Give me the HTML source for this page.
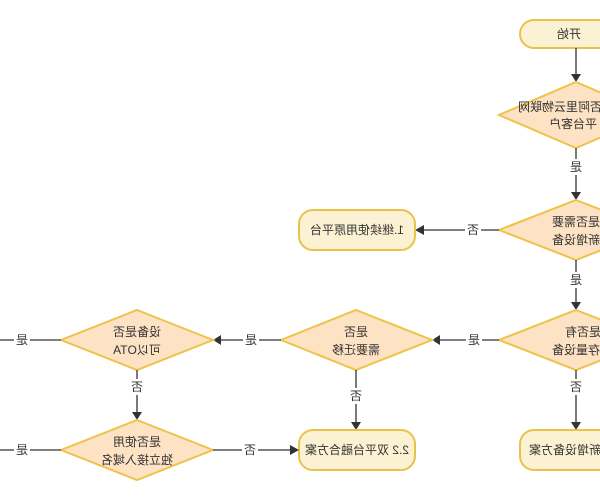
<!DOCTYPE html>
<html><head><meta charset="utf-8"><style>
html,body{margin:0;padding:0;background:#fff;width:600px;height:500px;overflow:hidden}
text{font-family:"Liberation Sans","Noto Sans CJK SC",sans-serif;font-size:12px;fill:#333;text-anchor:middle;dominant-baseline:central}
.d{fill:#fde2c4;stroke:#efc24a;stroke-width:2}
.r{fill:#fbf1d3;stroke:#e9c24e;stroke-width:2}
.l{stroke:#333;stroke-width:1.3;fill:none}
.a{fill:#333}
</style></head><body>
<svg width="600" height="500" viewBox="0 0 600 500" xmlns="http://www.w3.org/2000/svg">
<!-- start -->
<rect class="r" x="520" y="20" width="112" height="28" rx="14"/>
<text transform="translate(569,34) scale(-1,1)">开始</text>
<line class="l" x1="576" y1="48" x2="576" y2="76"/><polygon class="a" points="571,74 581,74 576,82"/>
<!-- d1 -->
<polygon class="d" points="576,82 653,115 576,148 499,115"/>
<text transform="translate(566,107) scale(-1,1)">是否阿里云物联网</text>
<text transform="translate(573,124) scale(-1,1)">平台客户</text>
<line class="l" x1="576" y1="148" x2="576" y2="194"/><polygon class="a" points="571,192 581,192 576,200"/>
<rect x="569" y="159" width="14" height="16" fill="#fff"/><text transform="translate(576,167) scale(-1,1)">是</text>
<!-- d2 -->
<polygon class="d" points="576,200 653,230 576,260 499,230"/>
<text transform="translate(576,222) scale(-1,1)">是否需要</text>
<text transform="translate(576,240) scale(-1,1)">新增设备</text>
<line class="l" x1="499" y1="230" x2="422" y2="230"/><polygon class="a" points="424,225 424,235 415,230"/>
<rect x="465" y="222" width="16" height="16" fill="#fff"/><text transform="translate(473,230) scale(-1,1)">否</text>
<rect class="r" x="299" y="210" width="116" height="40" rx="14"/>
<text transform="translate(357,230) scale(-1,1)">1.继续使用原平台</text>
<line class="l" x1="576" y1="260" x2="576" y2="304"/><polygon class="a" points="571,302 581,302 576,310"/>
<rect x="569" y="272" width="14" height="16" fill="#fff"/><text transform="translate(576,280) scale(-1,1)">是</text>
<!-- d3 -->
<polygon class="d" points="576,310 653,340 576,370 499,340"/>
<text transform="translate(583,332) scale(-1,1)">是否有</text>
<text transform="translate(576,350) scale(-1,1)">存量设备</text>
<line class="l" x1="499" y1="340" x2="438" y2="340"/><polygon class="a" points="440,335 440,345 432,340"/>
<rect x="466" y="332" width="16" height="16" fill="#fff"/><text transform="translate(474,340) scale(-1,1)">是</text>
<line class="l" x1="576" y1="370" x2="576" y2="424"/><polygon class="a" points="571,422 581,422 576,430"/>
<rect x="569" y="379" width="14" height="16" fill="#fff"/><text transform="translate(576,387) scale(-1,1)">否</text>
<rect class="r" x="520" y="430" width="130" height="40" rx="14"/>
<text transform="translate(575,450) scale(-1,1)">2.1 新增设备方案</text>
<!-- d4 -->
<polygon class="d" points="356,310 432,340 356,370 281,340"/>
<text transform="translate(356,332) scale(-1,1)">是否</text>
<text transform="translate(356,350) scale(-1,1)">需要迁移</text>
<line class="l" x1="281" y1="340" x2="219" y2="340"/><polygon class="a" points="221,335 221,345 213,340"/>
<rect x="243" y="332" width="16" height="16" fill="#fff"/><text transform="translate(251,340) scale(-1,1)">是</text>
<line class="l" x1="356" y1="370" x2="356" y2="424"/><polygon class="a" points="351,422 361,422 356,430"/>
<rect x="349" y="388" width="14" height="16" fill="#fff"/><text transform="translate(356,396) scale(-1,1)">否</text>
<rect class="r" x="299" y="430" width="116" height="40" rx="14"/>
<text transform="translate(357,450) scale(-1,1)">2.2 双平台融合方案</text>
<!-- d5 -->
<polygon class="d" points="137,310 213,340 137,370 61,340"/>
<text transform="translate(137,332) scale(-1,1)">设备是否</text>
<text transform="translate(137,350) scale(-1,1)">可以OTA</text>
<line class="l" x1="61" y1="340" x2="0" y2="340"/>
<rect x="14" y="332" width="16" height="16" fill="#fff"/><text transform="translate(22,340) scale(-1,1)">是</text>
<line class="l" x1="137" y1="370" x2="137" y2="414"/><polygon class="a" points="132,412 142,412 137,420"/>
<rect x="130" y="379" width="14" height="16" fill="#fff"/><text transform="translate(137,387) scale(-1,1)">否</text>
<!-- d6 -->
<polygon class="d" points="137,420 213,450 137,480 61,450"/>
<text transform="translate(137,442) scale(-1,1)">是否使用</text>
<text transform="translate(137,460) scale(-1,1)">独立接入域名</text>
<line class="l" x1="61" y1="450" x2="0" y2="450"/>
<rect x="14" y="442" width="16" height="16" fill="#fff"/><text transform="translate(22,450) scale(-1,1)">是</text>
<line class="l" x1="213" y1="450" x2="292" y2="450"/><polygon class="a" points="290,445 290,455 299,450"/>
<rect x="242" y="442" width="16" height="16" fill="#fff"/><text transform="translate(250,450) scale(-1,1)">否</text>
</svg>
</body></html>
